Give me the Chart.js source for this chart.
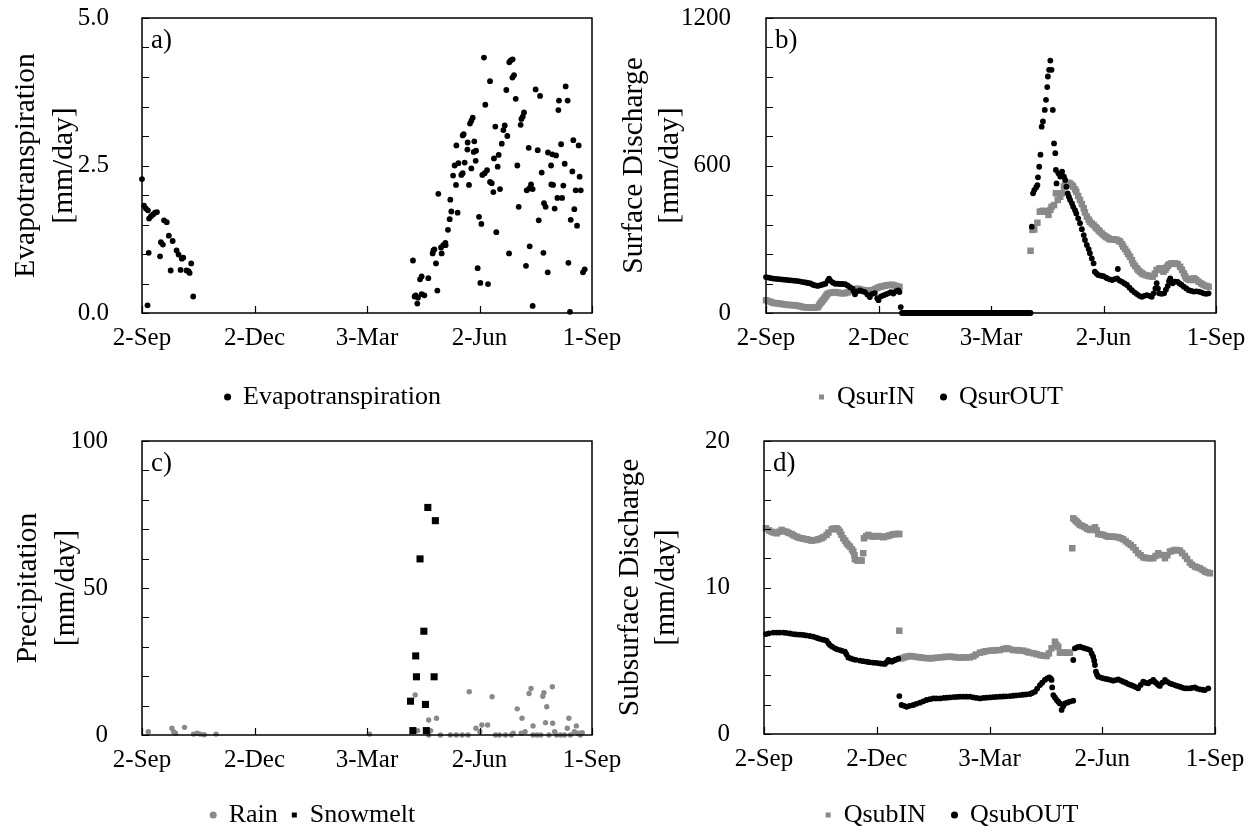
<!DOCTYPE html>
<html>
<head>
<meta charset="utf-8">
<script src="https://cdn.jsdelivr.net/npm/chart.js@4.4.1/dist/chart.umd.min.js"></script>
<style>
  body { margin: 0; background: #fff; width: 1260px; height: 832px; position: relative; overflow: hidden; }
  canvas { position: absolute; }
</style>
</head>
<body>
<canvas id="chartA" width="630" height="416" style="left:0;top:0"></canvas>
<canvas id="chartB" width="650" height="416" style="left:610px;top:0"></canvas>
<canvas id="chartC" width="630" height="416" style="left:0;top:416px"></canvas>
<canvas id="chartD" width="650" height="416" style="left:610px;top:416px"></canvas>
<script>
const FONT = "'Liberation Serif', 'Times New Roman', serif";
const GRAY = '#8a8a8a';

// --- x axis: days counted from 2-Sep ---
const dateTicks = [0, 91, 182, 273, 364];
const dateLabels = ['2-Sep', '2-Dec', '3-Mar', '2-Jun', '1-Sep'];

// --- y axis labels (min, middle, max) ---
const etAxisLabels = ['0.0', '2.5', '5.0'];
const surAxisLabels = ['0', '600', '1200'];
const precAxisLabels = ['0', '50', '100'];
const subAxisLabels = ['0', '10', '20'];

// --- a) evapotranspiration [day, mm/day] ---
const etPoints = [
  [0,2.27],[1.6,1.82],[3.2,1.77],[4.8,1.74],[5.7,1.6],[7.3,1.64],[8.9,1.67],[10.5,1.7],[12.1,1.71],[4.5,0.13],
  [5.4,1.02],[14.6,0.96],[15.3,1.2],[16.9,1.16],[17.8,1.57],[20,1.54],[21.7,1.31],[24.8,1.22],[23.2,0.72],[28,1.06],
  [29.6,0.99],[32.2,0.92],[31.2,0.73],[33.4,0.94],[36,0.72],[38.5,0.68],[39.8,0.84],[41.4,0.28],[37.6,0.71],
  [276.6,4.33],[297.1,4.25],[298.2,4.28],[299.8,4.3],[281.5,3.93],[300.9,4.03],[299.6,3.99],[294.7,3.78],[318.4,3.79],[322,3.68],
  [342.7,3.84],[302.3,3.63],[277.7,3.53],[337.3,3.6],[344.3,3.6],[336.8,3.44],[309,3.4],[308,3.33],[306.9,3.29],[306.3,3.19],
  [267.5,3.31],[266.4,3.26],[265.3,3.21],[285.8,3.16],[293.4,3.18],[292.3,3.1],[295.5,3.0],[291,2.87],[260.2,3.03],[259.4,3.01],
  [254.3,2.84],[263.4,2.89],[268.8,2.91],[263.2,2.77],[270.2,2.75],[268.3,2.73],[312.8,2.8],[320.1,2.76],[339,2.86],[348.9,2.93],
  [353.2,2.84],[328.4,2.72],[331.9,2.69],[334.9,2.67],[330.9,2.5],[341.9,2.53],[288.5,2.68],[284.7,2.62],[287.7,2.48],[269.9,2.58],
  [266.4,2.45],[258.3,2.34],[259.4,2.37],[252.9,2.5],[255.9,2.54],[261,2.55],[251.6,2.33],[254,2.17],[264.5,2.17],[279.1,2.42],
  [277.2,2.37],[275.3,2.34],[281.5,2.22],[282.9,2.2],[284.2,2.05],[289.6,2.1],[303.6,2.5],[314.7,2.18],[313.3,2.11],[311.2,2.08],
  [316,2.1],[323.3,2.38],[331.1,2.18],[332.5,2.17],[340.8,2.16],[336,1.95],[339.8,1.95],[348.1,2.4],[354,2.31],[350.8,2.08],
  [354.9,2.08],[239.7,2.02],[249.4,1.92],[250.2,1.72],[255.3,1.7],[325.2,1.86],[326.5,1.8],[333.8,1.77],[304.7,1.8],[272.6,1.63],
  [274.5,1.51],[248.9,1.59],[247.5,1.41],[320.9,1.57],[286.6,1.37],[346.8,1.58],[351.9,1.48],[349.7,1.76],[245.4,1.19],[243.7,1.15],
  [241.9,1.11],[245.6,1.15],[242.4,1.01],[235.7,1.06],[236.5,1.08],[235.1,1.01],[237.8,0.84],[219.2,0.89],[313.6,1.13],[296.9,1.01],
  [324.7,1.02],[344.9,0.85],[358.1,0.74],[356.7,0.69],[310.6,0.8],[328.2,0.69],[271.5,0.76],[273.7,0.51],[279.9,0.49],[226.2,0.62],
  [231.6,0.59],[224.9,0.57],[238.9,0.38],[226.2,0.32],[228.4,0.3],[221.4,0.3],[223.2,0.26],[220.5,0.28],[222.7,0.16],[316,0.12],
  [346.2,0.02]
];

// --- b) surface discharge [day, mm/day] ---
const qsurInPoints = [
  [0,52],[2,48],[4,45],[6,41],[8,40],[10,39],[12,37],[14,36],[16,34],[18,33],[20,32],[22,32],[24,31],[26,29],[28,27],
  [30,24],[32,23],[34,23],[36,22],[38,22],[40,22],[42,24],[43,32],[44,40],[45,46],[46,52],[47,58],[48,65],[49,72],[50,79],
  [52,82],[54,84],[56,85],[58,83],[60,81],[62,80],[64,81],[66,84],[68,90],[70,94],[72,97],[74,99],[76,96],[78,94],[80,92],
  [82,91],[84,90],[86,92],[88,97],[90,102],[92,106],[94,108],[96,111],[98,113],[100,114],[102,115],[104,112],[106,109],[108,106],
  [214,253],[215.5,338],[217,340],[219.5,367],[221.5,412],[223,414],[224,416],[225.5,414],[226.5,412],[228.5,399],[230,420],
  [231,432],[233,439],[234.5,487],[236,460],[238,473],[239.5,487],[241,514],[242,520],[243,527],[244.5,530],[246,527],[247.5,520],
  [248.5,514],[250,503],[251,493],[252.5,476],[254,460],[255.5,443],[257,426],[258,409],[259.5,392],[261,380],[262,371],[263.5,364],
  [265,358],[266.5,350],[267.5,344],[269,337],[270,331],[271.5,324],[273,317],[274.5,312],[275.5,308],[277,304],[278,300],[279.5,300],
  [281,300],[282.5,299],[284,297],[285.5,293],[286.5,290],[288,280],[289,270],[290.5,260],[292,249],[293,239],[294.5,229],[296,215],
  [297,202],[298.5,192],[300,182],[301,175],[302.5,168],[304,162],[305,158],[307,154],[309,152],[310,150],[312,149],[313,148],
  [314.5,160],[316,175],[318,180],[319,182],[320.5,175],[321.5,168],[323,176],[324,185],[325,192],[326,198],[328,202],[330,202],
  [331,201],[333,199],[335,188],[336.5,175],[338,161],[339,150],[340,141],[341.5,137],[343,134],[344.5,138],[346,141],[347,137],
  [348,134],[350,127],[352,120],[354,114],[356,110],[358,107]
];
const qsurOutPoints = [
  [0,146],[2,144],[4,142],[6,140],[8,139],[10,138],[12,137],[14,136],[16,135],[18,134],[20,133],[22,132],[24,131],[26,130],
  [28,128],[30,126],[32,124],[34,122],[36,120],[38,115],[40,112],[42,110],[44,113],[46,116],[48,119],[50,132],[51,140],[52,132],
  [54,124],[56,119],[58,119],[60,118],[62,118],[64,117],[66,112],[68,105],[70,99],[71,88],[72,76],[74,88],[76,92],[78,88],
  [80,85],[82,75],[84,65],[86,78],[88,81],[90,60],[91,52],[93,68],[95,72],[97,76],[99,80],[101,85],[103,79],[105,88],[107,92],
  [108,85],[109,24],
  [110,0],[111,0],[112,0],[113,0],[114,0],[115,0],[116,0],[117,0],[118,0],[119,0],[120,0],[121,0],[122,0],[123,0],[124,0],
  [125,0],[126,0],[127,0],[128,0],[129,0],[130,0],[131,0],[132,0],[133,0],[134,0],[135,0],[136,0],[137,0],[138,0],[139,0],
  [140,0],[141,0],[142,0],[143,0],[144,0],[145,0],[146,0],[147,0],[148,0],[149,0],[150,0],[151,0],[152,0],[153,0],[154,0],
  [155,0],[156,0],[157,0],[158,0],[159,0],[160,0],[161,0],[162,0],[163,0],[164,0],[165,0],[166,0],[167,0],[168,0],[169,0],
  [170,0],[171,0],[172,0],[173,0],[174,0],[175,0],[176,0],[177,0],[178,0],[179,0],[180,0],[181,0],[182,0],[183,0],[184,0],
  [185,0],[186,0],[187,0],[188,0],[189,0],[190,0],[191,0],[192,0],[193,0],[194,0],[195,0],[196,0],[197,0],[198,0],[199,0],
  [200,0],[201,0],[202,0],[203,0],[204,0],[205,0],[206,0],[207,0],[208,0],[209,0],[210,0],[211,0],[212,0],[213,0],[214,0],
  [215,351],[216,487],[217,500],[218.5,511],[219.5,520],[220,552],[221,595],[222,644],[223,758],[224,779],[225.5,826],
  [226.5,867],[227.5,919],[228,962],[229,989],[230,1027],[231,989],[232,826],[233,690],[234,650],[234.5,582],[235,527],
  [236.5,568],[238,555],[239.5,575],[241,555],[242,541],[243,514],[244,487],[245,473],[246,460],[247.5,446],[248.5,432],
  [250,418],[251,405],[252.5,385],[254,365],[255.5,341],[257,317],[258,297],[259.5,277],[261,260],[262,243],[263.5,222],
  [265,202],[266,168],[267.5,160],[269,154],[271,152],[273,150],[275,144],[276,141],[278,137],[280,134],[282,138],[284,141],
  [284.6,179],[286,132],[288,127],[290,120],[292,114],[294,103],[296,93],[298,84],[300,77],[302,70],[304,66],[306,70],
  [308,73],[310,70],[312,66],[313.5,80],[315,100],[316,121],[317,100],[318,80],[320,78],[322,80],[323.5,95],[325,110],
  [326,130],[327,141],[328,130],[329,121],[331,128],[333,127],[334.5,120],[336,115],[338,107],[340,100],[342,93],[344,90],
  [346,87],[348,88],[350,87],[352,84],[354,80],[356,78],[358,80]
];

// --- c) precipitation [day, mm/day] ---
const rainPoints = [
  [5.1,1.1],[24.2,2.3],[25.5,1.1],[27.1,0.6],[34.4,2.6],[41.7,0.3],[44.6,0.6],[47.1,0.3],[50.3,0.1],[59.9,0.3],
  [184.1,0.3],[221,13.6],[223,1.5],[231.9,0],[233.5,1.5],[231.9,5.1],[238.2,5.7],[241.4,0],[249.4,0],[254.2,0],
  [259,0],[263.7,0],[264.7,14.7],[270.1,2.3],[273.3,1.1],[274.9,3.4],[279.6,3.4],[283.2,13],[286,0],[289.2,0],
  [294,0],[298.8,0],[300.3,0.6],[303.5,8.9],[306.7,0.6],[307.4,5.7],[309.9,1.1],[313.1,14.1],[314.7,15.8],[316.3,0],
  [319.5,0],[316.3,3.1],[324.2,13.2],[325.1,14.4],[327.4,9.6],[326.4,4.2],[322.6,0],[329.2,0],[331.9,16.4],[332.2,4],
  [333.8,1.1],[335.4,0],[338.6,0],[341.8,0],[345.3,5.7],[344,2.3],[346.5,0],[349.7,1.1],[351.3,3.1],[352.9,0.6],
  [354.5,0],[356.1,0.8]
];
const snowmeltPoints = [
  [231.2,77.4],[237.3,72.9],[224.9,59.9],[228,35.3],[221.4,26.9],[222,19.8],[236.3,19.8],[217.2,11.5],[229.3,10.4],
  [219.1,1.5],[230,1.5]
];

// --- d) subsurface discharge [day, mm/day] ---
const qsubInPoints = [
  [1.6,14.04],[4,13.9],[6.2,13.8],[8,13.75],[10.2,13.7],[12,13.8],[14.2,13.93],[16,13.85],[18.3,13.8],[20,13.72],
  [22.3,13.65],[24,13.55],[26.3,13.47],[28,13.4],[30.4,13.36],[32,13.32],[34.4,13.29],[36,13.25],[38.4,13.2],[40,13.22],
  [42.5,13.25],[44,13.3],[46.5,13.36],[48,13.45],[50.5,13.59],[52,13.75],[54.6,13.97],[56,14.02],[58.6,14.04],[60,13.95],
  [61.3,13.8],[62.5,13.6],[64,13.36],[65.5,13.2],[66.7,13.02],[68,12.9],[69.4,12.79],[71,12.6],[72.1,12.45],[73,12.2],
  [73.4,11.93],[75,11.86],[76.1,11.84],[78,11.84],[78.8,11.84],[80.1,12.34],[80.7,13.36],[82.5,13.5],[84.2,13.59],[86,13.52],
  [88.2,13.47],[90,13.5],[92.2,13.52],[94,13.48],[96.3,13.43],[98,13.48],[100.3,13.52],[102,13.58],[104.3,13.63],[106,13.65],
  [108,13.66],[109.2,13.65],
  [109.2,7.05],
  [111,5.16],[113,5.22],[115,5.28],[117.8,5.32],[120,5.3],[123,5.26],[125.9,5.23],[128,5.2],[131,5.18],[133.9,5.16],
  [136,5.18],[139,5.2],[142,5.23],[145,5.25],[147,5.27],[150.1,5.28],[153,5.26],[155,5.23],[158.1,5.21],[161,5.22],
  [163,5.23],[166.2,5.23],[169,5.3],[171,5.42],[174.3,5.55],[177,5.6],[179,5.65],[182.4,5.69],[185,5.7],[187,5.72],
  [190.4,5.73],[193,5.8],[195.8,5.85],[198,5.8],[201.2,5.73],[204,5.72],[206,5.7],[209.3,5.69],[212,5.62],[214,5.56],
  [217.3,5.51],[220,5.45],[222.7,5.39],[225,5.35],[228.1,5.32],[230,5.5],[232.1,5.85],[234.8,6.3],[236,6.1],[237.5,5.96],
  [238.8,5.55],[241,5.55],[242.9,5.55],[245,5.55],[246.9,5.55],
  [248.8,12.68],
  [249.6,14.72],[251,14.6],[252.3,14.5],[253.5,14.4],[255,14.27],[257,14.2],[259,14.11],[261,14.0],[263.1,13.93],[265,14.0],
  [267.1,14.11],[268.5,13.9],[269.8,13.65],[272,13.62],[273.8,13.59],[276,13.52],[277.8,13.47],[280,13.47],[281.9,13.47],[284,13.45],
  [285.9,13.43],[288,13.36],[289.9,13.29],[292,13.15],[294,13.02],[296,12.9],[298,12.75],[300,12.55],[302,12.34],[304,12.2],
  [306.1,12.06],[308,12.02],[310.1,12],[312,12],[314.2,12],[316,12.15],[318.2,12.34],[320.9,12.22],[323.6,12],[325.5,12.2],
  [327.6,12.45],[329.5,12.5],[331.6,12.56],[333.5,12.55],[335.7,12.52],[337.5,12.35],[339.7,12.15],[341.5,11.95],[343.7,11.7],[345.5,11.55],
  [347.8,11.43],[349.5,11.37],[351.8,11.31],[354,11.2],[355.9,11.08],[358,11.02],[359.9,10.97]
];
const qsubOutPoints = [
  [1.6,6.82],[4,6.87],[7.5,6.92],[10,6.92],[12.5,6.92],[15.6,6.92],[18,6.9],[21,6.86],[23.6,6.82],[26,6.8],
  [29,6.78],[31.7,6.76],[34,6.73],[37,6.69],[39.8,6.64],[42,6.58],[44,6.52],[46.5,6.46],[48.5,6.42],[50.5,6.37],
  [52,6.2],[53.2,6.07],[55,5.96],[57.3,5.85],[59,5.78],[61.3,5.73],[63,5.68],[65.3,5.62],[66.5,5.45],[68,5.23],
  [70,5.16],[72.1,5.1],[74,5.06],[77.4,5.01],[80,4.97],[82.8,4.94],[85,4.9],[88.2,4.87],[91,4.85],[93.6,4.82],
  [95.5,4.8],[97.6,4.78],[99,4.9],[100.3,5.05],[101.5,5.0],[103,4.94],[104.5,5.0],[105.7,5.05],[107,5.1],[108.4,5.14],
  [109.2,2.59],
  [111,1.98],[113,1.92],[115.1,1.86],[117.5,1.92],[120.5,1.98],[123,2.06],[125.9,2.14],[128.5,2.23],[131.2,2.32],[134,2.38],
  [136.6,2.43],[139,2.43],[142,2.43],[145,2.46],[147.5,2.48],[150.1,2.5],[153,2.52],[155.5,2.53],[158.1,2.55],[161,2.55],
  [163.5,2.55],[166.2,2.55],[169,2.5],[171.5,2.46],[174.3,2.43],[177,2.46],[179.5,2.48],[182.4,2.5],[185,2.52],[187.5,2.53],
  [190.4,2.55],[193,2.56],[195.5,2.57],[198.5,2.59],[201,2.61],[203.5,2.63],[206.5,2.66],[209,2.68],[211.5,2.7],[214.6,2.73],
  [216.5,2.8],[218.7,2.89],[220.5,3.1],[222.7,3.34],[224.5,3.5],[226.7,3.69],[228.5,3.8],[230.2,3.87],[231.3,3.8],[232.1,3.69],
  [232.6,3.18],[233.5,2.66],[234.8,2.5],[236.2,2.32],[237.5,2.2],[238.8,2.09],[240.2,1.64],[241.5,1.9],[242.9,2.09],[245,2.15],
  [246.9,2.21],[249.6,2.27],
  [249.6,5.05],
  [250.9,5.85],[253,5.92],[255,5.96],[257,5.9],[259,5.85],[261,5.8],[263.1,5.73],[264.5,5.5],[265.7,5.28],[266.5,5.0],
  [267.1,4.71],[267.9,4.25],[268.8,4.05],[269.8,3.91],[272,3.85],[273.8,3.8],[276,3.76],[277.8,3.73],[280,3.68],[281.9,3.64],
  [284,3.68],[285.9,3.73],[288,3.65],[289.9,3.57],[292,3.5],[294,3.41],[296,3.35],[298,3.28],[300,3.2],[302,3.12],
  [304,3.35],[306.1,3.57],[308,3.5],[310.1,3.46],[312,3.58],[314.2,3.69],[315.5,3.55],[316.9,3.46],[318,3.36],[319.5,3.28],
  [321.5,3.5],[323.6,3.69],[325.5,3.56],[327.6,3.46],[329.5,3.4],[331.6,3.34],[333.5,3.28],[335.7,3.23],[337.5,3.17],[339.7,3.12],
  [341.5,3.12],[343.7,3.12],[345.5,3.15],[347.8,3.18],[349.5,3.1],[351.8,3.05],[354,3.02],[355.9,3.0],[358.6,3.12]
];

// --- frame, inward tick marks and panel letter ---
const panelDeco = {
  id: 'panelDeco',
  afterDatasetsDraw(chart, args, opts) {
    const { ctx, chartArea: a, scales: { x, y } } = chart;
    ctx.save();
    ctx.strokeStyle = '#000';
    ctx.lineWidth = 1.5;
    ctx.strokeRect(a.left, a.top, a.right - a.left, a.bottom - a.top);
    ctx.lineWidth = 1.2;
    ctx.beginPath();
    y.ticks.forEach(t => {
      const py = Math.round(y.getPixelForValue(t.value)) + 0.5;
      ctx.moveTo(a.left, py); ctx.lineTo(a.left + 7, py);
    });
    x.ticks.forEach(t => {
      const px = Math.round(x.getPixelForValue(t.value)) + 0.5;
      ctx.moveTo(px, a.bottom); ctx.lineTo(px, a.bottom - 7);
    });
    ctx.stroke();
    ctx.fillStyle = '#000';
    ctx.font = '27px ' + FONT;
    ctx.textBaseline = 'alphabetic';
    ctx.fillText(opts.letter, a.left + 9, a.top + 30);
    ctx.restore();
  }
};
Chart.register(panelDeco);

function series(label, pts, style, color, radius, order) {
  return {
    label,
    data: pts.map(([x, y]) => ({ x, y })),
    pointStyle: style,
    backgroundColor: color,
    borderColor: color,
    borderWidth: 0,
    pointRadius: radius,
    pointHoverRadius: radius,
    order,
    clip: false
  };
}

const TITLE_SIZE = 29.5;

function makePanel(id, g, datasets) {
  const canvas = document.getElementById(id);
  const majors = [0, g.yMax / 2, g.yMax];
  // left padding that centres the legend where the reference has it
  const padLeft = 2 * g.legendX - (canvas.width - g.rightPad);
  const lineH = g.lineGap / TITLE_SIZE;
  return new Chart(canvas, {
    type: 'scatter',
    data: { datasets },
    options: {
      responsive: false,
      animation: false,
      devicePixelRatio: 1,
      events: [],
      layout: { padding: { left: padLeft, top: g.top, right: g.rightPad, bottom: -g.legendDrop } },
      scales: {
        x: {
          type: 'linear', min: 0, max: 364,
          grid: { display: false },
          border: { display: false },
          ticks: {
            stepSize: 91, autoSkip: false, maxRotation: 0, padding: 2, color: '#000',
            font: { family: FONT, size: 25 },
            callback: v => { const i = dateTicks.indexOf(v); return i >= 0 ? dateLabels[i] : ''; }
          },
          afterFit: s => {
            s.height = s.chart.height - g.bottom - (s.chart.legend ? s.chart.legend.height : 0) + g.legendDrop;
            s.paddingLeft = 0; s.paddingRight = 0;
          }
        },
        y: {
          min: 0, max: g.yMax,
          grid: { display: false },
          border: { display: false },
          ticks: {
            stepSize: g.yMax / 10, autoSkip: false, padding: g.tickPad, color: '#000',
            font: { family: FONT, size: 25 },
            callback: v => { const i = majors.indexOf(v); return i >= 0 ? g.yLabels[i] : ''; }
          },
          title: {
            display: true, text: g.title, color: '#000',
            font: { family: FONT, size: TITLE_SIZE, lineHeight: lineH },
            padding: { top: g.titleX - g.lineGap / 2 - padLeft, bottom: 0 }
          },
          afterFit: s => { s.width = g.left - padLeft; s.paddingTop = 0; s.paddingBottom = 0; }
        }
      },
      plugins: {
        panelDeco: { letter: g.letter },
        tooltip: { enabled: false },
        legend: {
          position: 'bottom',
          labels: {
            usePointStyle: true, boxWidth: 5, boxHeight: 5, padding: g.legendGap, color: '#000',
            font: { family: FONT, size: 26 },
            sort: (a, b) => a.datasetIndex - b.datasetIndex
          }
        }
      }
    }
  });
}

makePanel('chartA',
  { left: 142, top: 18, rightPad: 38, bottom: 313, yMax: 5, yLabels: etAxisLabels, tickPad: 25,
    title: ['Evapotranspiration', '[mm/day]'], lineGap: 38, titleX: 26, letter: 'a)',
    legendX: 333, legendDrop: 4, legendGap: 14 },
  [series('Evapotranspiration', etPoints, 'circle', '#000', 2.9, 0)]);

makePanel('chartB',
  { left: 156, top: 18, rightPad: 44, bottom: 313, yMax: 1200, yLabels: surAxisLabels, tickPad: 27,
    title: ['Surface Discharge', '[mm/day]'], lineGap: 36, titleX: 24, letter: 'b)',
    legendX: 331, legendDrop: 4, legendGap: 26 },
  [series('QsurIN', qsurInPoints, 'rect', GRAY, 4.6, 1),
   series('QsurOUT', qsurOutPoints, 'circle', '#000', 2.9, 0)]);

makePanel('chartC',
  { left: 142, top: 25, rightPad: 38, bottom: 319, yMax: 100, yLabels: precAxisLabels, tickPad: 26,
    title: ['Precipitation', '[mm/day]'], lineGap: 38, titleX: 28, letter: 'c)',
    legendX: 313, legendDrop: 6, legendGap: 14 },
  [series('Rain', rainPoints, 'circle', GRAY, 2.7, 1),
   series('Snowmelt', snowmeltPoints, 'rect', '#000', 5, 0)]);

makePanel('chartD',
  { left: 154, top: 25, rightPad: 45, bottom: 318, yMax: 20, yLabels: subAxisLabels, tickPad: 26,
    title: ['Subsurface Discharge', '[mm/day]'], lineGap: 36, titleX: 20, letter: 'd)',
    legendX: 342, legendDrop: 6, legendGap: 26 },
  [series('QsubIN', qsubInPoints, 'rect', GRAY, 4.6, 1),
   series('QsubOUT', qsubOutPoints, 'circle', '#000', 2.9, 0)]);
</script>
</body>
</html>
